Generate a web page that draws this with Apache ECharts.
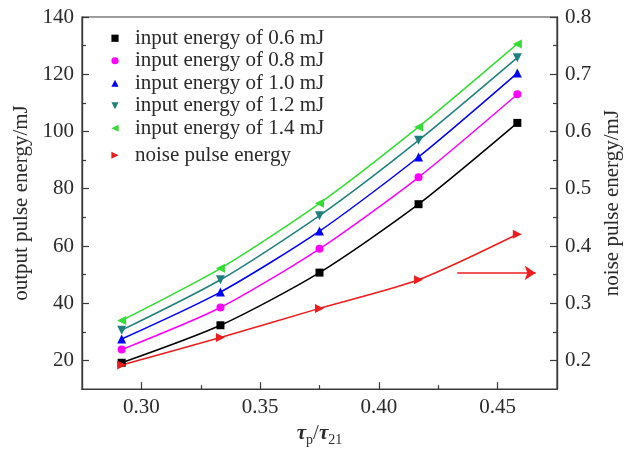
<!DOCTYPE html>
<html>
<head>
<meta charset="utf-8">
<script src="https://cdn.jsdelivr.net/npm/echarts@6/dist/echarts.min.js"></script>
<style>html,body{margin:0;padding:0;background:#fff}#c{width:632px;height:452px}</style>
</head>
<body>
<div id="c"></div>
<script>
// ---- data ----
const ratio = [0.2917, 0.3333, 0.375, 0.4167, 0.4583];
const seriesNames = ['input energy of 0.6 mJ','input energy of 0.8 mJ','input energy of 1.0 mJ','input energy of 1.2 mJ','input energy of 1.4 mJ'];
const out06 = [19.2, 32.3, 50.7, 74.6, 103.0];
const out08 = [23.8, 38.5, 59.0, 84.0, 113.0];
const out10 = [27.5, 43.9, 65.2, 91.1, 120.4];
const out12 = [30.6, 48.2, 70.6, 96.9, 125.8];
const out14 = [34.0, 52.2, 74.9, 101.6, 130.6];
const noiseName = 'noise pulse energy';
const noise = [0.192, 0.240, 0.291, 0.341, 0.4205];
const xTicks = [0.30, 0.35, 0.40, 0.45];
const xMinor = [0.325, 0.375, 0.425];
const yTicks = [20, 40, 60, 80, 100, 120, 140];
const yMinor = [30, 50, 70, 90, 110, 130];
const y2Ticks = [0.2, 0.3, 0.4, 0.5, 0.6, 0.7, 0.8];
const y2Minor = [0.25, 0.35, 0.45, 0.55, 0.65, 0.75];
const arrowStart = [0.433, 0.353];
const arrowEnd = [0.466, 0.353];

// ---- style ----
const FONT = '"Liberation Serif","Times New Roman",serif';
const AX = '#3a3a3a';
const TXT = '#2a2a2a';
const colors = ['#000000', '#ff00ff', '#0000ff', '#1f7f7f', '#33dd33'];
const symbols = ['rect', 'circle', 'triangle', 'path://M0,0 L10,0 L5,10 Z', 'path://M10,0 L10,10 L0,5 Z'];
const symSizes = [8, 8, 9, 9, 9];
const rightTri = 'path://M0,0 L0,10 L10,5 Z';
const RED = '#ee1c1c';

function pairs(ys) { return ratio.map((x, i) => [x, ys[i]]); }

const chart = echarts.init(document.getElementById('c'), null, {renderer: 'canvas'});

function axisCommon(extra) {
  return Object.assign({
    type: 'value',
    axisLine: {show: true, onZero: false, lineStyle: {color: AX, width: 1.2}},
    splitLine: {show: false},
  }, extra);
}

const outs = [out06, out08, out10, out12, out14];
const series = outs.map((d, i) => ({
  name: seriesNames[i],
  type: 'line',
  xAxisIndex: 0, yAxisIndex: 0,
  data: pairs(d),
  smooth: 0.25,
  symbol: symbols[i],
  symbolSize: symSizes[i],
  itemStyle: {color: colors[i]},
  lineStyle: {color: colors[i], width: 1.5},
  z: 3
}));
series.push({
  name: noiseName,
  type: 'line',
  xAxisIndex: 0, yAxisIndex: 2,
  data: pairs(noise),
  smooth: 0.25,
  symbol: rightTri,
  symbolSize: 9,
  itemStyle: {color: RED},
  lineStyle: {color: RED, width: 1.5},
  markLine: {
    silent: true,
    symbol: ['none', 'arrow'],
    symbolSize: 11,
    label: {show: false},
    itemStyle: {color: RED},
    lineStyle: {color: RED, width: 1.5, type: 'solid'},
    emphasis: {disabled: true},
    data: [[{coord: arrowStart}, {coord: arrowEnd}]]
  },
  z: 3
});

const legendCommon = {
  orient: 'vertical',
  left: 99,
  padding: 0,
  itemWidth: 32,
  itemHeight: 9,
  itemGap: 0,
  lineStyle: {width: 0, opacity: 0},
  textStyle: {fontFamily: FONT, fontSize: 21, color: TXT, lineHeight: 22.5, padding: [0, 0, 0, -1]},
};

chart.setOption({
  animation: false,
  backgroundColor: '#ffffff',
  textStyle: {fontFamily: FONT},
  grid: {left: 82, right: 75, top: 17, bottom: 54, show: true, borderColor: AX, borderWidth: 1.2},
  legend: [
    Object.assign({top: 27, data: seriesNames}, legendCommon),
    Object.assign({top: 144, data: [noiseName]}, legendCommon)
  ],
  xAxis: [
    axisCommon({
      position: 'bottom', min: 0.275, max: 0.475,
      name: '{t|τ}{s|p}{n|/}{t|τ}{s|21}',
      nameLocation: 'middle', nameGap: 28,
      nameTextStyle: {
        rich: {
          t: {fontFamily: FONT, fontSize: 21, fontStyle: 'italic', fontWeight: 'bold', color: TXT, verticalAlign: 'top', lineHeight: 22},
          n: {fontFamily: FONT, fontSize: 21, color: TXT, verticalAlign: 'top', lineHeight: 22},
          s: {fontFamily: FONT, fontSize: 14, color: TXT, verticalAlign: 'top', lineHeight: 22, padding: [10, 0, 0, 0]}
        }
      },
      axisTick: {show: true, inside: true, length: 7, lineStyle: {color: AX, width: 1.2}, customValues: xTicks},
      axisLabel: {show: true, customValues: xTicks, margin: 8, fontFamily: FONT, fontSize: 21, color: TXT,
        formatter: v => v.toFixed(2)}
    }),
    axisCommon({
      position: 'bottom', min: 0.275, max: 0.475,
      axisTick: {show: true, inside: true, length: 4, lineStyle: {color: AX, width: 1.2}, customValues: xMinor},
      axisLabel: {show: false}
    })
  ],
  yAxis: [
    axisCommon({
      position: 'left', min: 10, max: 140,
      name: 'output pulse energy/mJ', nameLocation: 'middle', nameGap: 45, nameRotate: 90,
      nameTextStyle: {fontFamily: FONT, fontSize: 21, color: TXT},
      axisTick: {show: true, inside: true, length: 7, lineStyle: {color: AX, width: 1.2}, customValues: yTicks},
      axisLabel: {show: true, customValues: yTicks, margin: 8, fontFamily: FONT, fontSize: 21, color: TXT}
    }),
    axisCommon({
      position: 'left', min: 10, max: 140,
      axisTick: {show: true, inside: true, length: 4, lineStyle: {color: AX, width: 1.2}, customValues: yMinor},
      axisLabel: {show: false}
    }),
    axisCommon({
      position: 'right', min: 0.15, max: 0.8,
      name: 'noise pulse energy/mJ', nameLocation: 'middle', nameGap: 44, nameRotate: 90,
      nameTextStyle: {fontFamily: FONT, fontSize: 21, color: TXT},
      axisTick: {show: true, inside: true, length: 7, lineStyle: {color: AX, width: 1.2}, customValues: y2Ticks},
      axisLabel: {show: true, customValues: y2Ticks, margin: 8, fontFamily: FONT, fontSize: 21, color: TXT,
        formatter: v => v.toFixed(1)}
    }),
    axisCommon({
      position: 'right', min: 0.15, max: 0.8,
      axisTick: {show: true, inside: true, length: 4, lineStyle: {color: AX, width: 1.2}, customValues: y2Minor},
      axisLabel: {show: false}
    })
  ],
  series: series
});
</script>
</body>
</html>
